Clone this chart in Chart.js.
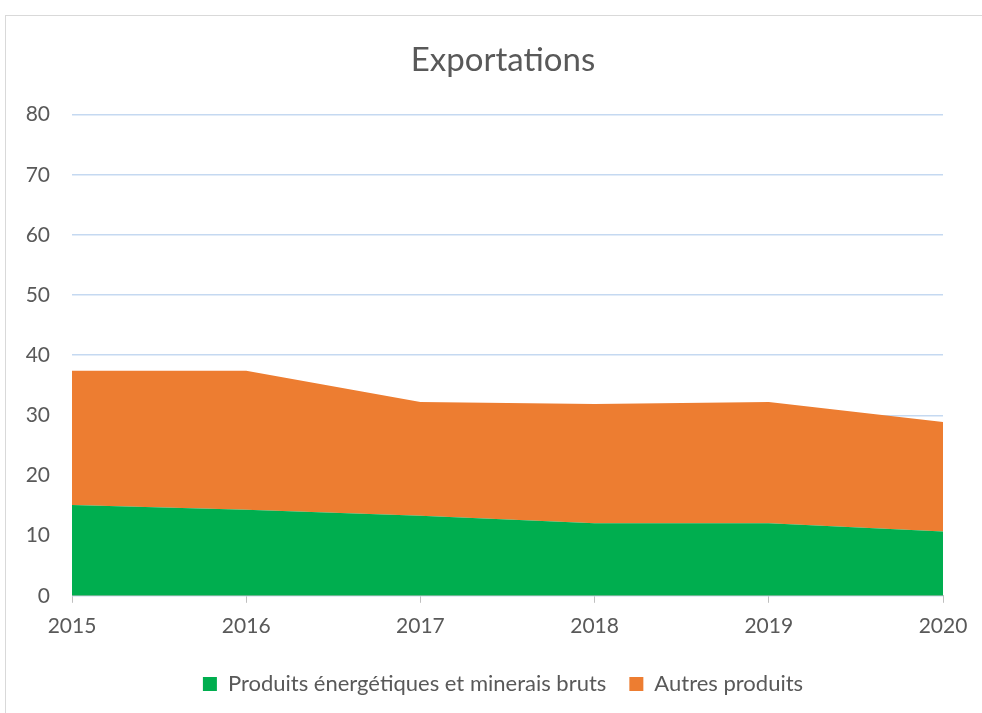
<!DOCTYPE html>
<html>
<head>
<meta charset="utf-8">
<script src="https://cdn.jsdelivr.net/npm/chart.js@4"></script>
<style>
  html, body { margin: 0; padding: 0; background: #fff; overflow: hidden; }
  #frame { position: absolute; left: 5px; top: 15px; width: 1000px; height: 720px; border: 1px solid #d9d9d9; }
  #wrap { position: absolute; left: 0; top: 0; width: 982px; height: 713px; }
</style>
</head>
<body>
<div id="frame"></div>
<div id="wrap"><canvas id="chart" width="982" height="713"></canvas></div>
<script>
const years = ['2015', '2016', '2017', '2018', '2019', '2020']
const energie = [15.1, 14.3, 13.3, 12.05, 12.05, 10.7]
const autres = [22.3, 23.1, 18.9, 19.85, 20.15, 18.2]

const textColor = '#595959'
const font = 'Lato, "Open Sans", sans-serif'

new Chart(document.getElementById('chart'), {
  type: 'line',
  data: {
    labels: years,
    datasets: [
      {
        label: 'Produits énergétiques et minerais bruts',
        data: energie,
        backgroundColor: '#00ae4f',
        borderColor: '#00ae4f',
        borderWidth: 0,
        pointRadius: 0,
        fill: 'origin',
        tension: 0,
      },
      {
        label: 'Autres produits',
        data: autres,
        backgroundColor: '#ed7d31',
        borderColor: '#ed7d31',
        borderWidth: 0,
        pointRadius: 0,
        fill: '-1',
        tension: 0,
      },
    ],
  },
  options: {
    responsive: false,
    animation: false,
    layout: { padding: { left: 24, right: 0, top: 0, bottom: 8 } },
    plugins: {
      tooltip: { enabled: false },
      title: {
        display: true,
        text: 'Exportations',
        color: textColor,
        font: { family: font, size: 33, weight: 'normal' },
        padding: { top: 41, bottom: 34 },
      },
      legend: {
        position: 'bottom',
        labels: {
          color: textColor,
          font: { family: font, size: 22 },
          boxWidth: 14,
          boxHeight: 14,
          padding: 23,
        },
      },
    },
    scales: {
      x: {
        offset: false,
        grid: { drawOnChartArea: false, tickLength: 7, color: '#bfbfbf' },
        border: { color: '#bfbfbf' },
        ticks: { color: textColor, font: { family: font, size: 21 }, padding: 11, maxRotation: 0 },
      },
      y: {
        stacked: true,
        min: 0,
        max: 80,
        ticks: { stepSize: 10, color: textColor, font: { family: font, size: 21 }, padding: 22 },
        grid: { color: '#c5d9f1', drawTicks: false, lineWidth: 1.5 },
        border: { display: false },
        afterFit: (s) => { s.width = 48 },
      },
      // empty axis on the right, only to keep the right margin
      yRight: {
        position: 'right',
        min: 0,
        max: 80,
        ticks: { display: false },
        grid: { display: false },
        border: { display: false },
        afterFit: (s) => { s.width = 39 },
      },
    },
  },
})
</script>
</body>
</html>
